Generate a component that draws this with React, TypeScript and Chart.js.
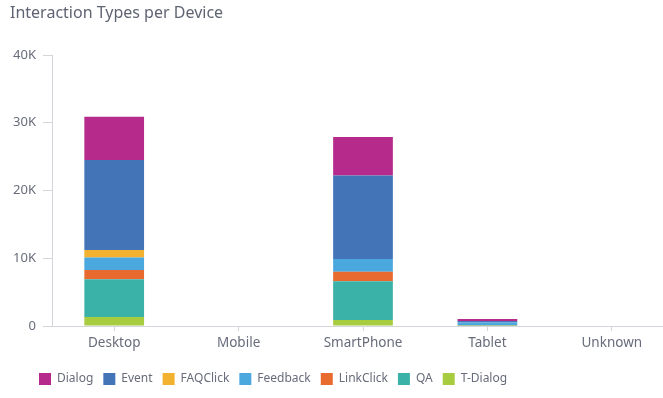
import React, { useEffect, useRef } from "react";
import { Chart, registerables } from "chart.js";

Chart.register(...registerables);

const categories = ["Desktop", "Mobile", "SmartPhone", "Tablet", "Unknown"];
const tDialog = [1330, 0, 890, 30, 0];
const qa = [5570, 0, 5710, 50, 0];
const linkClick = [1370, 0, 1400, 20, 0];
const feedback = [1830, 0, 1900, 400, 0];
const faqClick = [1100, 0, 0, 0, 0];
const eventVals = [13300, 0, 12300, 250, 0];
const dialog = [6400, 0, 5700, 300, 0];
const yTicks = [0, 10000, 20000, 30000, 40000];

const FONT = "'Noto Sans', sans-serif";
const TEXT = "#686c7b";
const LINE = "#d4d5db";

const legendShift = {
  id: "legendShift",
  afterLayout(chart: any) {
    if (chart.legend) {
      chart.legend.left += 19;
    }
  },
};

export default function App() {
  const ref = useRef<HTMLCanvasElement | null>(null);
  useEffect(() => {
    if (!ref.current) return;
    const chart = new Chart(ref.current, {
      type: "bar",
      data: {
        labels: categories,
        datasets: [
          { label: "T-Dialog", data: tDialog, backgroundColor: "#a8cc40" },
          { label: "QA", data: qa, backgroundColor: "#3bb2a8" },
          { label: "LinkClick", data: linkClick, backgroundColor: "#e86a2e" },
          { label: "Feedback", data: feedback, backgroundColor: "#4aa8de" },
          { label: "FAQClick", data: faqClick, backgroundColor: "#f2b12e" },
          { label: "Event", data: eventVals, backgroundColor: "#4374b8" },
          { label: "Dialog", data: dialog, backgroundColor: "#b52a8a" },
        ],
      },
      plugins: [legendShift],
      options: {
        responsive: false,
        animation: false,
        layout: { padding: { left: 10, right: 2, top: 0, bottom: 3 } },
        datasets: { bar: { barPercentage: 0.6, categoryPercentage: 0.8 } },
        plugins: {
          title: {
            display: true,
            text: "Interaction Types per Device",
            align: "start",
            color: "#5f6473",
            font: { family: FONT, size: 16, weight: "normal" },
            padding: { top: 4, bottom: 31.8 },
          },
          legend: {
            position: "bottom",
            align: "start",
            reverse: true,
            labels: {
              boxWidth: 12,
              boxHeight: 12,
              padding: 10,
              color: TEXT,
              font: { family: FONT, size: 12 },
            },
          },
          tooltip: { enabled: false },
        },
        scales: {
          x: {
            stacked: true,
            grid: { display: true, drawOnChartArea: false, offset: false, tickLength: 5, color: LINE },
            border: { color: LINE },
            ticks: { color: TEXT, font: { family: FONT, size: 13.5 }, padding: 4 },
            afterFit: (s: any) => {
              s.height = 37;
            },
          },
          y: {
            stacked: true,
            min: 0,
            max: 40000,
            afterBuildTicks: (s: any) => {
              s.ticks = yTicks.map((v) => ({ value: v }));
            },
            grid: { display: true, drawOnChartArea: false, tickLength: 9, color: LINE },
            border: { color: LINE },
            ticks: {
              color: TEXT,
              font: { family: FONT, size: 13 },
              padding: 7,
              callback: (v: any) => (v === 0 ? "0" : v / 1000 + "K"),
            },
            afterFit: (s: any) => {
              s.width = 42;
            },
          },
        },
      },
    });
    return () => chart.destroy();
  }, []);
  return (
    <div style={{ position: "fixed", left: 0, top: 0, width: 663, height: 398, overflow: "hidden", background: "#fff" }}>
      <canvas ref={ref} width={676} height={398} style={{ display: "block", width: 676, height: 398 }} />
    </div>
  );
}
